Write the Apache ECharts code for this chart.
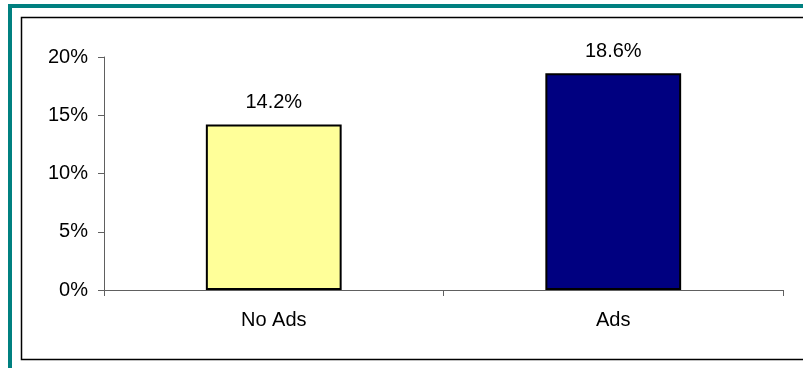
<!DOCTYPE html>
<html>
<head>
<meta charset="utf-8">
<script src="https://cdn.jsdelivr.net/npm/echarts@6/dist/echarts.min.js"></script>
<style>
  html, body { margin: 0; padding: 0; background: #fff; }
  #chart { width: 803px; height: 368px; }
</style>
</head>
<body>
<div id="chart"></div>
<script>
// 广告效果对比
var categories = ['No Ads', 'Ads'];
var values = [14.2, 18.6];
var barColors = ['#FFFF99', '#000080'];
var yTicks = { min: 0, max: 20, interval: 5 };

var font = 'Arial, "Liberation Sans", sans-serif';
var axisColor = '#606060';

var myChart = echarts.init(document.getElementById('chart'));
var option = {
	animation: false,
	backgroundColor: '#fff',
	graphic: [
		{
			// 外框 青色
			type: 'rect',
			shape: { x: 10, y: 6, width: 900, height: 600 },
			style: { fill: 'none', stroke: '#008080', lineWidth: 4 },
			silent: true
		},
		{
			// 内框 黑色
			type: 'rect',
			shape: { x: 21.5, y: 17.5, width: 900, height: 342 },
			style: { fill: 'none', stroke: '#000', lineWidth: 1.5 },
			silent: true
		}
	],
	grid: {
		left: 104,
		right: 20,
		top: 57,
		bottom: 78
	},
	xAxis: {
		type: 'category',
		data: categories,
		axisLine: { lineStyle: { color: axisColor, width: 1 } },
		axisTick: { show: true, length: 6, lineStyle: { color: axisColor } },
		axisLabel: { color: '#000', fontSize: 20, fontFamily: font, margin: 20 }
	},
	yAxis: {
		type: 'value',
		min: yTicks.min,
		max: yTicks.max,
		interval: yTicks.interval,
		splitLine: { show: false },
		axisLine: { show: true, lineStyle: { color: axisColor, width: 1 } },
		axisTick: { show: true, length: 6, lineStyle: { color: axisColor } },
		axisLabel: {
			color: '#000',
			fontSize: 20,
			fontFamily: font,
			margin: 16,
			formatter: '{value}%'
		}
	},
	series: [
		{
			type: 'bar',
			barWidth: '40%',
			data: values.map(function(v, i) {
				return {
					value: v,
					itemStyle: { color: barColors[i], borderColor: '#000', borderWidth: 2 }
				};
			}),
			label: {
				show: true,
				position: 'top',
				distance: 12,
				color: '#000',
				fontSize: 20,
				fontFamily: font,
				formatter: function(p) { return p.value.toFixed(1) + '%'; }
			}
		}
	]
};
myChart.setOption(option);
</script>
</body>
</html>
